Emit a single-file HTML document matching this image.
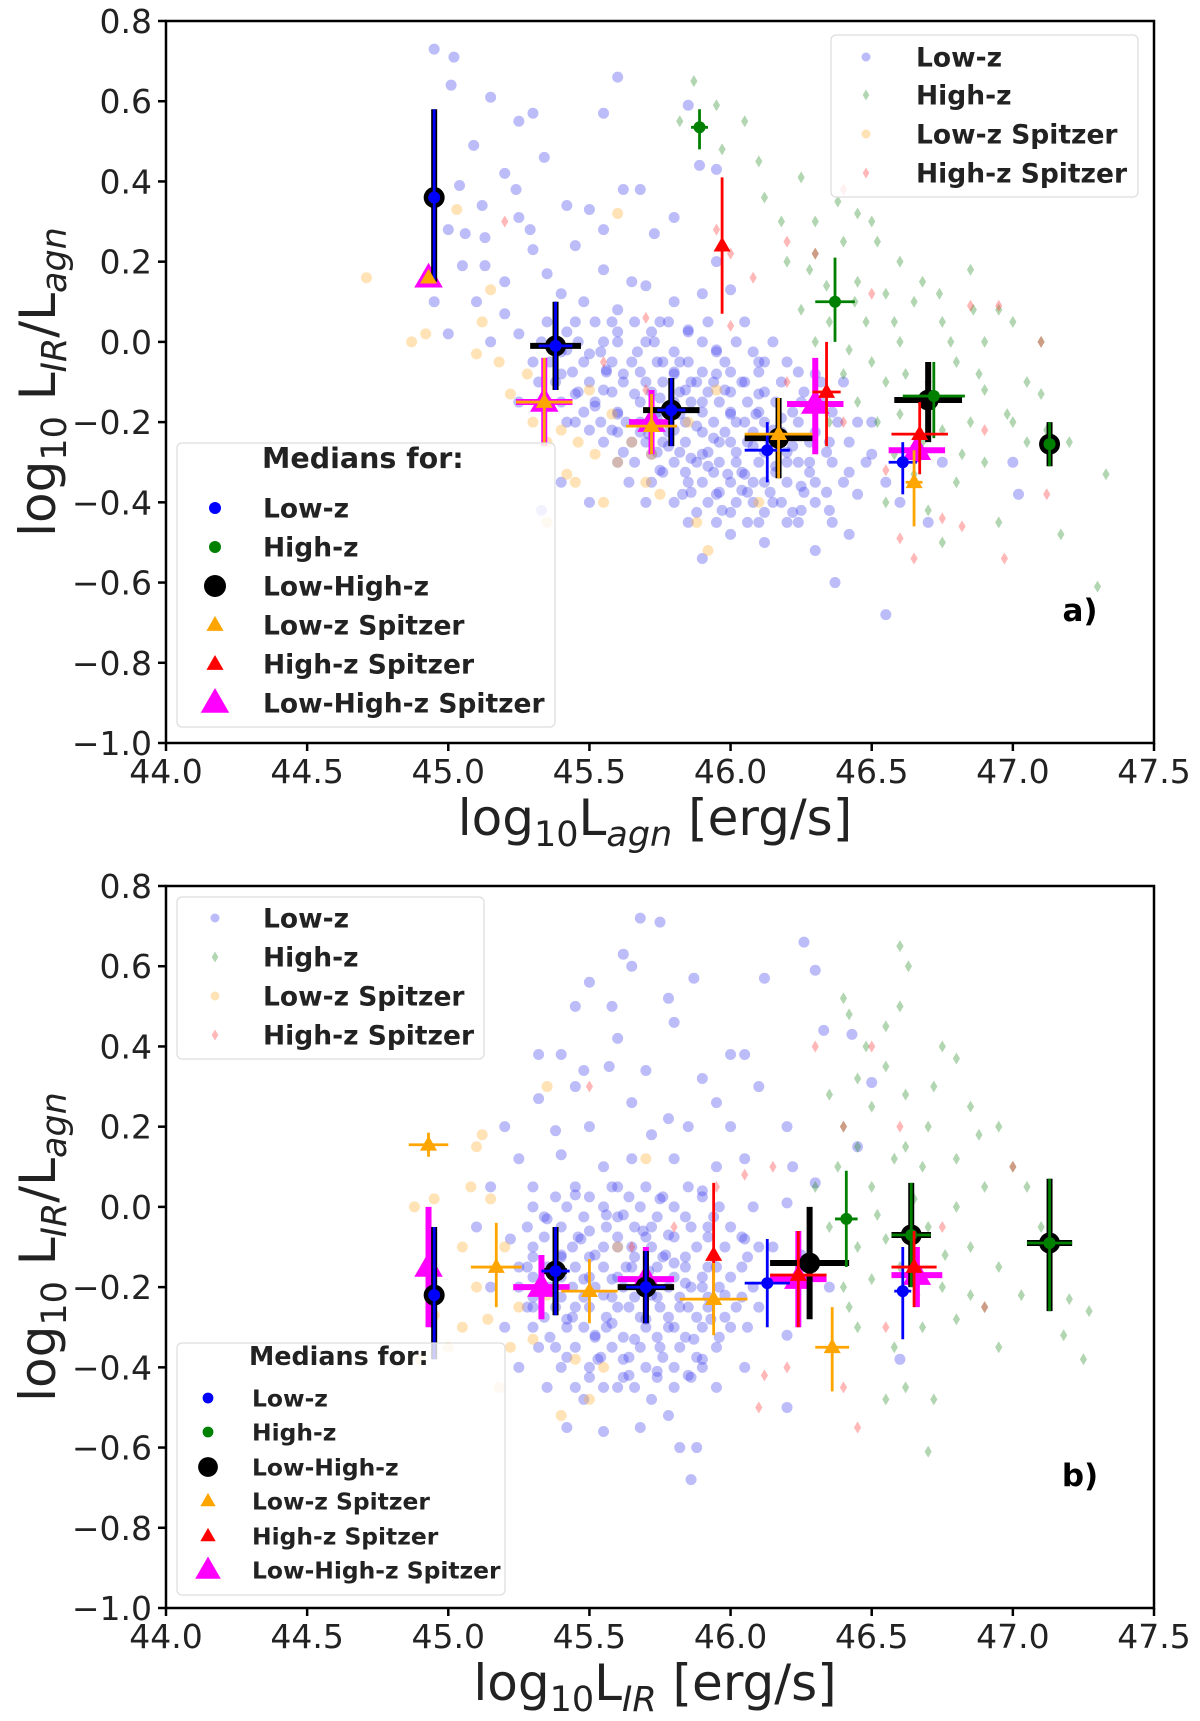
<!DOCTYPE html>
<html><head><meta charset="utf-8"><style>
html,body{margin:0;padding:0;background:#fff}
svg{display:block;font-family:"DejaVu Sans","Liberation Sans",sans-serif}
</style></head><body>
<svg id="fig" width="1200" height="1721" viewBox="0 0 1200 1721" xmlns="http://www.w3.org/2000/svg"></svg>
<script>
// ---------- data: panel a (x = log Lagn) ----------
const aBlue=[44.95,0.73,45.02,0.71,45.01,0.64,45.15,0.61,45.6,0.66,45.25,0.55,45.55,0.57,45.3,0.57,45.85,0.59,45.09,0.49,45.34,0.46,45.89,0.44,45.95,0.43,45.2,0.42,45.12,0.34,45.24,0.38,45.62,0.38,45.68,0.38,45.42,0.34,45.04,0.39,45.5,0.33,45.8,0.31,45.25,0.31,45.0,0.28,45.06,0.27,45.13,0.26,45.29,0.28,45.55,0.28,45.73,0.27,45.13,0.19,45.3,0.23,45.45,0.24,45.2,0.15,45.05,0.19,45.35,0.17,45.55,0.18,45.7,0.14,45.95,0.2,46.0,0.13,45.9,0.12,45.1,0.1,45.2,0.07,45.25,0.02,45.45,0.05,45.6,0.08,45.55,0.0,45.75,0.05,45.85,0.03,46.05,0.05,46.15,0.0,45.3,-0.05,45.4,-0.08,45.5,-0.03,45.65,-0.05,45.7,-0.1,45.85,-0.05,45.95,-0.08,46.05,-0.1,46.2,-0.05,46.3,-0.08,45.25,-0.15,45.45,-0.13,45.55,-0.12,45.6,-0.18,45.75,-0.14,45.9,-0.15,46.0,-0.18,46.1,-0.13,46.25,-0.15,46.4,-0.1,46.45,-0.2,45.5,-0.22,45.65,-0.25,45.8,-0.22,45.9,-0.28,46.0,-0.25,46.15,-0.22,46.2,-0.3,46.35,-0.25,46.5,-0.28,45.6,-0.3,45.75,-0.32,45.85,-0.35,45.95,-0.38,46.05,-0.33,46.15,-0.4,46.25,-0.36,46.35,-0.42,46.45,-0.38,45.7,-0.4,45.85,-0.45,45.9,-0.54,46.0,-0.48,46.12,-0.5,46.2,-0.45,46.3,-0.52,46.42,-0.48,46.37,-0.6,46.55,-0.68,46.7,-0.45,46.75,-0.3,47.0,-0.3,47.02,-0.38,45.4,-0.35,45.5,-0.4,45.33,-0.42,45.15,0.0,45.0,0.02,44.95,0.1,46.5,-0.2,46.55,-0.35,46.6,-0.4,46.1,-0.45,45.8,0.1,45.65,0.15,45.4,0.12,45.62,-0.08,45.68,-0.2,45.72,-0.28,45.78,-0.26,45.82,-0.18,45.88,-0.21,45.92,-0.31,45.98,-0.12,46.02,-0.3,46.08,-0.26,46.12,-0.35,46.18,-0.19,46.22,-0.26,46.28,-0.3,45.58,-0.22,45.52,-0.16,45.45,-0.2,45.38,-0.1,45.42,-0.02,45.48,0.1,45.58,0.05,45.7,0.0,45.8,-0.08,45.88,-0.1,45.95,-0.02,46.1,-0.05,46.05,-0.2,45.97,-0.42,46.08,-0.4,46.25,-0.42,45.83,-0.38,45.76,-0.05,45.66,-0.13,45.74,-0.19,45.86,-0.29,45.94,-0.24,46.04,-0.37,46.16,-0.31,45.56,-0.07,45.64,-0.35,45.71,-0.23,45.84,-0.12,45.99,-0.33,46.09,-0.18];
const aCoreY=[0.05,0.0,-0.05,-0.1,-0.15,-0.2,-0.25,-0.3,-0.35,-0.4,-0.45,0.025,-0.025,-0.075,-0.125,-0.175,-0.225,-0.275,-0.325,-0.375,-0.425];
const aCoreX=[[45.35,45.52,45.66,45.78,45.92],[45.33,45.46,45.6,45.73,45.9,46.02],[45.36,45.48,45.58,45.74,45.82,45.98,46.12],[45.32,45.5,45.62,45.76,45.86,45.94,46.04,46.18,46.32],[45.4,45.52,45.68,45.8,45.86,45.96,46.06,46.16,46.32],[45.42,45.54,45.63,45.72,45.84,45.94,46.02,46.12,46.24,46.38],[45.55,45.7,45.76,45.84,45.96,46.06,46.14,46.28,46.42],[45.66,45.8,45.88,45.96,46.1,46.24,46.36,46.48],[45.72,45.9,46.0,46.08,46.2,46.3,46.4],[45.8,45.92,46.02,46.18,46.3],[45.95,46.06,46.24,46.36],
[45.42,45.6,45.72,45.85],[45.4,45.54,45.67,45.8,45.95,46.08],[45.44,45.56,45.68,45.8,45.9,46.0,46.1,46.24],[45.46,45.58,45.72,45.82,45.92,46.0,46.12,46.26],[45.48,45.6,45.74,45.9,46.0,46.1,46.22,46.36],[45.6,45.68,45.78,45.9,45.98,46.08,46.18,46.3],[45.62,45.74,45.82,45.92,46.02,46.12,46.2,46.34],[45.76,45.84,45.94,46.04,46.16,46.28,46.42],[45.86,45.96,46.06,46.14,46.26,46.34],[45.88,46.0,46.12,46.22]];
const aGreen=[45.87,0.65,45.82,0.55,45.95,0.59,46.05,0.55,45.97,0.48,46.1,0.45,46.12,0.36,46.18,0.3,46.25,0.41,46.3,0.3,46.38,0.35,46.45,0.32,46.5,0.3,46.52,0.25,46.4,0.25,46.3,0.22,46.2,0.2,46.6,0.2,46.68,0.15,46.45,0.15,46.55,0.12,46.35,0.05,46.25,0.08,46.65,0.1,46.75,0.05,46.85,0.18,47.0,0.05,46.9,0.0,46.8,-0.05,46.6,0.0,46.5,-0.05,46.4,-0.08,46.3,0.0,46.55,-0.1,46.7,-0.1,46.9,-0.12,47.05,-0.1,47.0,-0.2,46.85,-0.2,46.75,-0.22,46.6,-0.18,46.45,-0.15,46.35,-0.2,46.9,-0.3,47.05,-0.25,47.2,-0.25,47.33,-0.33,46.8,-0.35,46.65,-0.33,46.55,-0.4,46.7,-0.42,46.95,-0.45,47.17,-0.48,47.3,-0.61,46.75,-0.5,47.1,0.0,46.95,0.08,47.1,-0.13,46.82,-0.28,46.48,0.05,46.42,-0.02,46.58,0.05,46.62,-0.08,46.78,0.0,46.88,-0.08,46.52,-0.2,46.68,-0.25,46.98,-0.18,46.44,0.1,46.74,0.12,46.58,-0.28,46.86,0.08,47.12,-0.22,46.34,0.14,46.28,0.18];
const aOrange=[44.71,0.16,44.87,0.0,44.92,0.02,45.03,0.33,45.15,0.13,45.12,0.05,45.1,-0.03,45.22,-0.13,45.3,-0.2,45.35,-0.25,45.42,-0.33,45.45,-0.35,45.52,-0.28,45.6,-0.3,45.65,-0.25,45.72,-0.28,45.75,-0.38,45.88,-0.45,45.92,-0.52,45.55,-0.4,45.4,-0.22,45.28,-0.08,45.6,0.32,45.5,-0.12,45.85,-0.2,46.1,-0.4,45.95,-0.12,45.35,-0.45,45.46,-0.25,45.58,-0.18,45.7,-0.35,45.18,-0.05];
const aRed=[45.2,0.3,45.7,0.06,45.95,0.28,46.0,0.22,46.08,0.16,46.0,0.04,46.2,0.25,46.3,0.22,46.4,0.38,46.5,0.12,46.85,0.09,46.95,0.09,47.1,0.0,46.2,-0.1,46.4,-0.2,46.55,-0.32,46.9,-0.22,46.6,-0.49,46.65,-0.54,46.82,-0.46,46.97,-0.54,46.75,-0.44,47.12,-0.38,45.55,-0.05,45.7,-0.12];
const aMedMag=[[44.93,0.16,0.16,0.16,0],[45.34,-0.15,-0.26,-0.04,0.1],[45.72,-0.20,-0.28,-0.12,0.08],[46.30,-0.155,-0.28,-0.04,0.1],[46.66,-0.27,-0.30,-0.24,0.1]];
const aMedBlack=[[44.95,0.36,0.15,0.58,0],[45.38,-0.01,-0.12,0.10,0.09],[45.79,-0.17,-0.26,-0.09,0.1],[46.17,-0.24,-0.34,-0.14,0.12],[46.70,-0.145,-0.25,-0.05,0.12],[47.13,-0.255,-0.31,-0.20,0]];
const aMedBlue=[[44.95,0.36,0.15,0.58,0],[45.38,-0.01,-0.12,0.10,0.06],[45.79,-0.17,-0.26,-0.09,0.05],[46.13,-0.27,-0.35,-0.20,0.08],[46.61,-0.30,-0.38,-0.25,0.05]];
const aMedGreen=[[45.89,0.535,0.48,0.58,0.03],[46.37,0.10,0.0,0.21,0.07],[46.72,-0.135,-0.24,-0.05,0.11],[47.13,-0.255,-0.31,-0.20,0.02]];
const aMedRed=[[45.97,0.24,0.07,0.41,0],[46.34,-0.125,-0.26,0.0,0.05],[46.67,-0.23,-0.33,-0.15,0.1]];
const aMedOrange=[[44.93,0.16,0.16,0.16,0],[45.34,-0.15,-0.26,-0.04,0.1],[45.72,-0.21,-0.28,-0.13,0.09],[46.17,-0.23,-0.34,-0.14,0.12],[46.65,-0.35,-0.46,-0.27,0.03]];
// ---------- data: panel b (x = log LIR) ----------
const bBlue=[45.68,0.72,45.75,0.71,45.5,0.56,45.62,0.63,45.65,0.6,45.78,0.52,45.87,0.57,46.12,0.57,46.26,0.66,46.3,0.59,46.33,0.44,46.43,0.43,45.45,0.5,45.58,0.5,45.8,0.46,45.6,0.42,45.32,0.38,45.4,0.38,45.48,0.34,45.57,0.35,45.7,0.34,45.9,0.32,46.0,0.38,46.05,0.38,45.32,0.27,45.45,0.3,45.65,0.26,45.78,0.22,45.95,0.26,46.1,0.3,46.5,0.31,45.2,0.2,45.38,0.19,45.5,0.2,45.72,0.18,45.85,0.2,46.0,0.2,46.2,0.2,46.45,0.15,45.25,0.12,45.4,0.13,45.55,0.1,45.65,0.12,45.8,0.12,45.95,0.1,46.05,0.12,46.22,0.1,46.3,0.06,45.15,0.05,45.3,0.05,45.45,0.03,45.6,0.05,45.75,0.02,45.9,0.04,46.08,0.0,46.2,0.01,45.1,-0.05,45.22,-0.08,45.35,-0.03,45.5,-0.06,45.62,-0.02,45.78,-0.07,45.92,-0.05,46.05,-0.08,46.15,-0.1,46.25,-0.12,45.15,-0.2,45.28,-0.15,45.4,-0.12,45.52,-0.12,45.65,-0.1,45.8,-0.14,45.95,-0.15,46.1,-0.25,46.35,-0.2,45.2,-0.3,45.3,-0.25,45.45,-0.25,45.58,-0.18,45.7,-0.28,45.85,-0.25,46.0,-0.3,46.2,-0.32,45.25,-0.4,45.38,-0.35,45.52,-0.32,45.62,-0.38,45.75,-0.35,45.9,-0.38,46.05,-0.4,45.35,-0.45,45.48,-0.48,45.6,-0.45,45.72,-0.48,45.85,-0.42,45.95,-0.45,45.42,-0.55,45.55,-0.56,45.68,-0.55,45.78,-0.52,45.88,-0.6,45.82,-0.6,45.86,-0.68,46.2,-0.5,46.6,-0.38,45.6,-0.25,45.55,-0.22,45.72,-0.22,45.8,-0.3,45.48,-0.18,45.66,-0.33,45.9,-0.2,45.58,-0.29,45.63,-0.15,45.69,-0.06,45.74,-0.41,45.84,-0.19,45.93,-0.28,45.42,-0.28,45.53,-0.38,45.64,-0.42,45.77,-0.12,45.87,-0.33,45.98,-0.22,45.36,-0.2,45.47,-0.08,45.56,-0.02,45.71,-0.16];
const bCoreY=[0.05,0.0,-0.05,-0.1,-0.15,-0.2,-0.25,-0.3,-0.35,-0.4,-0.45,0.025,-0.025,-0.075,-0.125,-0.175,-0.225,-0.275,-0.325,-0.375,-0.425];
const bCoreX=[[45.45,45.58,45.7,45.85],[45.3,45.42,45.55,45.68,45.8,45.96],[45.28,45.4,45.56,45.66,45.72,45.86,46.0],[45.3,45.44,45.55,45.6,45.72,45.88,45.98,46.1],[45.25,45.35,45.45,45.55,45.65,45.74,45.84,45.92,46.04],[45.25,45.34,45.44,45.52,45.62,45.68,45.78,45.86,45.96,46.08],[45.28,45.38,45.5,45.64,45.75,45.82,45.92,46.02],[45.3,45.42,45.48,45.56,45.7,45.78,45.9,46.06],[45.32,45.45,45.58,45.68,45.82,45.95],[45.4,45.5,45.7,45.8,45.9],[45.45,45.55,45.66,45.8],
[45.38,45.5,45.64,45.76,45.9],[45.34,45.48,45.6,45.74,45.84,45.94],[45.34,45.46,45.6,45.7,45.8,45.92,46.04],[45.3,45.4,45.5,45.66,45.76,45.84,45.94,46.06],[45.3,45.4,45.5,45.6,45.7,45.8,45.9,46.0],[45.3,45.4,45.48,45.58,45.66,45.74,45.82,45.92,46.04],[45.34,45.44,45.56,45.68,45.78,45.88,45.98],[45.36,45.52,45.62,45.74,45.84,45.96],[45.42,45.54,45.64,45.76,45.88],[45.5,45.62,45.74,45.86]];
const bGreen=[46.6,0.65,46.63,0.6,46.4,0.52,46.42,0.48,46.55,0.45,46.6,0.5,46.75,0.4,46.8,0.37,46.55,0.35,46.45,0.32,46.35,0.28,46.5,0.25,46.62,0.28,46.72,0.3,46.85,0.25,46.95,0.2,46.7,0.2,46.4,0.2,46.45,0.15,46.58,0.12,46.68,0.1,46.8,0.12,47.0,0.1,46.3,0.05,46.5,0.05,46.65,0.02,46.8,0.0,46.9,0.05,47.05,0.05,46.35,-0.05,46.45,-0.1,46.55,-0.08,46.7,-0.05,46.85,-0.1,46.95,-0.15,47.1,-0.05,46.4,-0.2,46.5,-0.18,46.6,-0.15,46.75,-0.2,46.9,-0.25,47.03,-0.22,47.2,-0.23,47.27,-0.26,46.45,-0.3,46.58,-0.35,46.68,-0.3,46.8,-0.28,46.95,-0.35,47.18,-0.32,47.25,-0.38,46.55,-0.48,46.62,-0.45,46.72,-0.48,46.7,-0.61,46.85,-0.22,46.48,0.4,46.38,0.1,46.52,-0.02,46.62,0.15,46.76,-0.12,46.42,-0.25,46.66,-0.22,46.88,0.18];
const bOrange=[44.88,0.0,44.95,0.02,45.1,0.15,45.12,0.18,45.05,-0.1,45.1,-0.2,44.95,-0.27,45.0,-0.35,45.05,-0.3,45.2,-0.1,45.25,-0.25,45.3,-0.33,45.35,-0.22,45.45,-0.38,45.55,-0.4,45.5,-0.48,45.6,-0.1,45.7,0.12,45.35,0.3,45.15,0.02,45.4,-0.52,45.18,-0.45,44.9,-0.38,45.08,0.05,45.22,-0.35,45.14,-0.28];
const bRed=[45.5,0.3,45.65,-0.1,45.95,0.05,46.05,0.08,46.15,0.1,46.3,0.4,46.5,0.4,46.4,0.2,46.6,0.2,47.0,0.1,46.75,-0.05,46.9,-0.25,46.2,-0.4,46.1,-0.5,46.4,-0.45,46.45,-0.55,46.12,-0.42,46.55,-0.3,46.3,-0.15,45.8,-0.05];
const bMedMag=[[44.93,-0.15,-0.30,0.0,0],[45.33,-0.20,-0.28,-0.12,0.1],[45.70,-0.18,-0.26,-0.10,0.1],[46.24,-0.18,-0.30,-0.06,0.1],[46.66,-0.17,-0.25,-0.10,0.09]];
const bMedBlack=[[44.95,-0.22,-0.38,-0.05,0],[45.38,-0.16,-0.27,-0.05,0.04],[45.70,-0.20,-0.29,-0.11,0.1],[46.28,-0.14,-0.28,0.0,0.14],[46.64,-0.07,-0.20,0.06,0.07],[47.13,-0.09,-0.26,0.07,0.08]];
const bMedBlue=[[44.95,-0.22,-0.38,-0.05,0],[45.38,-0.16,-0.27,-0.05,0.05],[45.70,-0.20,-0.29,-0.11,0.07],[46.13,-0.19,-0.30,-0.08,0.08],[46.61,-0.21,-0.33,-0.10,0.03]];
const bMedGreen=[[46.41,-0.03,-0.15,0.09,0.04],[46.64,-0.07,-0.20,0.06,0.07],[47.13,-0.09,-0.26,0.07,0.08]];
const bMedRed=[[45.94,-0.12,-0.28,0.06,0],[46.24,-0.17,-0.30,-0.06,0.1],[46.65,-0.15,-0.25,-0.06,0.08]];
const bMedOrange=[[44.93,0.155,0.125,0.185,0.07],[45.17,-0.15,-0.25,-0.04,0.09],[45.50,-0.21,-0.29,-0.13,0.1],[45.94,-0.23,-0.32,-0.14,0.12],[46.36,-0.35,-0.46,-0.25,0.06]];
const xTicks=[44.0,44.5,45.0,45.5,46.0,46.5,47.0,47.5];
const yTicks=[0.8,0.6,0.4,0.2,0.0,-0.2,-0.4,-0.6,-0.8,-1.0];

const NS='http://www.w3.org/2000/svg';
const svg=document.getElementById('fig');
function mk(tag,attrs,parent,text){const e=document.createElementNS(NS,tag);for(const k in attrs)e.setAttribute(k,attrs[k]);if(text!==undefined)e.textContent=text;(parent||svg).appendChild(e);return e;}
const C={blue:'#0000ff',green:'#008000',orange:'#ffa500',red:'#ff0000',mag:'#ff00ff',black:'#000'};
function rowsToPairs(ys,xs){const out=[];ys.forEach((y,i)=>xs[i].forEach(x=>{out.push(x,y);}));return out;}

function panel(top,d,xlab,tag){
  const L=166,R=1154,T=top,B=top+722;
  const xs=v=>L+(v-44)/(3.5)*(R-L);
  const ys=v=>T+(0.8-v)/1.8*(B-T);
  const g=mk('g',{});
  
  
  const clipId='clip'+tag;
  const cp=mk('clipPath',{id:clipId},g);mk('rect',{x:L,y:T,width:R-L,height:B-T},cp);
  const pg=mk('g',{'clip-path':'url(#'+clipId+')'},g);
  function dots(arr,col,shape,name,op){
    const sg=mk('g',{},pg);
    
    
    for(let i=0;i<arr.length;i+=2){
      const x=xs(arr[i]),y=ys(arr[i+1]);let el;
      if(shape==='c')el=mk('circle',{cx:x,cy:y,r:5.5,fill:col,'fill-opacity':op},sg);
      else el=mk('path',{d:`M${x},${y-6}L${x+3.6},${y}L${x},${y+6}L${x-3.6},${y}Z`,fill:col,'fill-opacity':op},sg);
      
      
    }
  }
  dots(d.blue,'#4040ee','c','low-z-scatter',0.35);
  dots(d.core,'#4040ee','c','low-z-scatter-core',0.35);
  dots(d.orange,'#ffb030','c','low-z-spitzer-scatter',0.35);
  dots(d.green,'#1f8a1f','d','high-z-scatter',0.35);
  dots(d.red,'#ff3030','d','high-z-spitzer-scatter',0.35);
  function med(arr,col,lw,mark,size,name){
    const sg=mk('g',{},pg);
    
    
    arr.forEach(p=>{
      const x=xs(p[0]),y=ys(p[1]);
      if(p[3]>p[2])mk('line',{x1:x,x2:x,y1:ys(p[2]),y2:ys(p[3]),stroke:col,'stroke-width':lw},sg);
      if(p[4]>0)mk('line',{x1:xs(p[0]-p[4]),x2:xs(p[0]+p[4]),y1:y,y2:y,stroke:col,'stroke-width':lw},sg);
      let el;
      if(mark==='c')el=mk('circle',{cx:x,cy:y,r:size,fill:col},sg);
      else el=mk('path',{d:`M${x},${y-size}L${x+size*0.95},${y+size*0.65}L${x-size*0.95},${y+size*0.65}Z`,fill:col},sg);
      
      
    });
  }
  med(d.mMag,C.mag,6,'t',15,'median-low-high-z-spitzer');
  med(d.mBlack,C.black,6,'c',10.5,'median-low-high-z');
  med(d.mBlue,C.blue,2.8,'c',6,'median-low-z');
  med(d.mGreen,C.green,2.8,'c',6,'median-high-z');
  med(d.mRed,C.red,2.8,'t',9,'median-high-z-spitzer');
  med(d.mOrange,C.orange,2.8,'t',9,'median-low-z-spitzer');
  const fr=mk('rect',{x:L,y:T,width:R-L,height:B-T,fill:'none',stroke:'#000','stroke-width':2.5},g);
  
  xTicks.forEach(v=>{const x=xs(v);mk('line',{x1:x,x2:x,y1:B,y2:B+8,stroke:'#000','stroke-width':2.5},g);
    const t=mk('text',{x:x,y:B+40,'text-anchor':'middle','font-size':33,fill:'#222'},g,v.toFixed(1));
    });
  yTicks.forEach(v=>{const y=ys(v);mk('line',{x1:L-8,x2:L,y1:y,y2:y,stroke:'#000','stroke-width':2.5},g);
    const s=(v<0?'\u2212':'')+Math.abs(v).toFixed(1);
    const t=mk('text',{x:L-14,y:y+12,'text-anchor':'end','font-size':33,fill:'#222'},g,s);
    });
  const xt=mk('text',{x:(L+R)/2-5,y:B+92,'text-anchor':'middle','font-size':50,fill:'#222'},g);
  
  xt.innerHTML='log<tspan font-size="35" dy="11">10</tspan><tspan dy="-11">L</tspan><tspan font-size="35" dy="11" font-style="italic">'+xlab+'</tspan><tspan dy="-11"> [erg/s]</tspan>';
  const yt=mk('text',{transform:`translate(55,${(T+B)/2}) rotate(-90)`,'text-anchor':'middle','font-size':50,fill:'#222'},g);
  
  yt.innerHTML='log<tspan font-size="35" dy="11">10</tspan><tspan dy="-11"> L</tspan><tspan font-size="35" dy="11" font-style="italic">IR</tspan><tspan dy="-11">/L</tspan><tspan font-size="35" dy="11" font-style="italic">agn</tspan>';
  const pl=mk('text',{x:1080,y:B-122,'text-anchor':'middle','font-size':31,'font-weight':'bold',fill:'#000'},g,tag+')');
  
  return g;
}
function legend(box,rows,fs,mx,tx,title,name){
  const g=mk('g',{});
  
  
  mk('rect',{x:box[0],y:box[1],width:box[2]-box[0],height:box[3]-box[1],rx:5,fill:'#fff','fill-opacity':0.8,stroke:'#ddd','stroke-width':1.2},g);
  if(title){const t=mk('text',{x:title[0],y:title[1]+10,'font-size':fs+2,'font-weight':'bold',fill:'#222'},g,'Medians for:');
    }
  rows.forEach(r=>{
    const y=r.y;
    if(r.m==='c')mk('circle',{cx:mx,cy:y,r:r.s,fill:r.c,'fill-opacity':r.a||1},g);
    else if(r.m==='d')mk('path',{d:`M${mx},${y-r.s}L${mx+r.s*0.6},${y}L${mx},${y+r.s}L${mx-r.s*0.6},${y}Z`,fill:r.c,'fill-opacity':r.a||1},g);
    else mk('path',{d:`M${mx},${y-r.s}L${mx+r.s*0.95},${y+r.s*0.65}L${mx-r.s*0.95},${y+r.s*0.65}Z`,fill:r.c},g);
    const t=mk('text',{x:tx,y:y+fs*0.36,'font-size':fs,'font-weight':'bold',fill:'#222'},g,r.t);
    
  });
}
panel(21,{blue:aBlue,core:rowsToPairs(aCoreY,aCoreX),green:aGreen,orange:aOrange,red:aRed,mMag:aMedMag,mBlack:aMedBlack,mBlue:aMedBlue,mGreen:aMedGreen,mRed:aMedRed,mOrange:aMedOrange},'agn','a');
panel(886,{blue:bBlue,core:rowsToPairs(bCoreY,bCoreX),green:bGreen,orange:bOrange,red:bRed,mMag:bMedMag,mBlack:bMedBlack,mBlue:bMedBlue,mGreen:bMedGreen,mRed:bMedRed,mOrange:bMedOrange},'IR','b');
function scatRows(ys){return [{t:'Low-z',m:'c',c:'#3c3cf0',a:0.35,s:4.5,y:ys[0]},{t:'High-z',m:'d',c:'#1f8a1f',a:0.35,s:5.5,y:ys[1]},{t:'Low-z Spitzer',m:'c',c:'#ffb030',a:0.35,s:4.5,y:ys[2]},{t:'High-z Spitzer',m:'d',c:'#ff3030',a:0.35,s:5.5,y:ys[3]}];}
function medRows(ys,k){return [{t:'Low-z',m:'c',c:C.blue,s:6*k,y:ys[0]},{t:'High-z',m:'c',c:C.green,s:6*k,y:ys[1]},{t:'Low-High-z',m:'c',c:'#000',s:11*k,y:ys[2]},{t:'Low-z Spitzer',m:'t',c:C.orange,s:9*k,y:ys[3]},{t:'High-z Spitzer',m:'t',c:C.red,s:9*k,y:ys[4]},{t:'Low-High-z Spitzer',m:'t',c:C.mag,s:15*k,y:ys[5]}];}
legend([831,35,1138,197],scatRows([57,95,134,173]),26.5,866,916,null,'legend-scatter-a');
legend([177,443,555,727],medRows([508,547,586,625,664,703],1),26.5,215,263,[262,458],'legend-medians-a');
legend([177,897,484,1059],scatRows([918,957,996,1035]),26.5,215,263,null,'legend-scatter-b');
legend([177,1343,505,1595],medRows([1398,1432,1467,1501,1536,1570],0.9),23.4,208,252,[249,1355],'legend-medians-b');
</script>
</body></html>
